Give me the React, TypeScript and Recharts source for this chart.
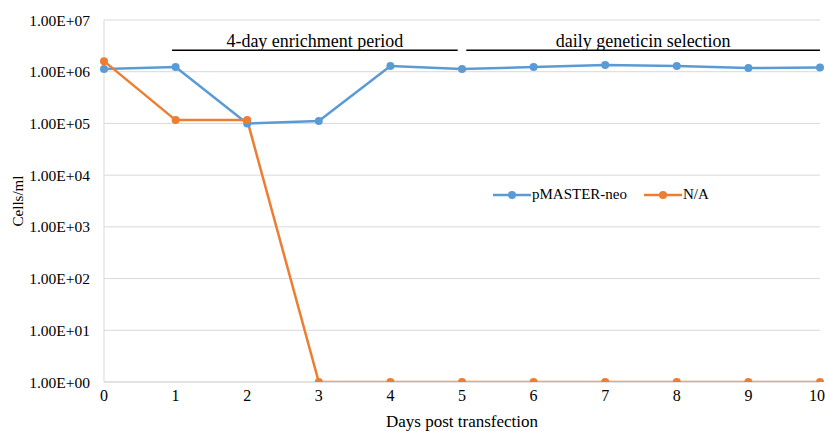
import React from 'react';
import { LineChart, Line, XAxis, YAxis, CartesianGrid, ReferenceLine } from 'recharts';

const days = [0, 1, 2, 3, 4, 5, 6, 7, 8, 9, 10];
const pmasterNeo = [1.13e6, 1.23e6, 1.0e5, 1.11e5, 1.29e6, 1.13e6, 1.23e6, 1.35e6, 1.29e6, 1.18e6, 1.2e6];
const noVector = [1.6e6, 1.16e5, 1.16e5, 1, 1, 1, 1, 1, 1, 1, 1];
const yTicks = [1, 10, 100, 1e3, 1e4, 1e5, 1e6, 1e7];
const periods = [
  { label: '4-day enrichment period', start: 0.95, end: 4.94 },
  { label: 'daily geneticin selection', start: 5.06, end: 10 },
];
const seriesNames = ['pMASTER-neo', 'N/A'];

const data = days.map((d, i) => ({ day: d, a: pmasterNeo[i], b: noVector[i] }));

const BLUE = '#5B9BD5';
const ORANGE = '#ED7D31';
const FONT = '"Liberation Serif", "Times New Roman", serif';

const sci = (v: number) => {
  const exp = Math.round(Math.log10(v));
  return `1.00E+${exp < 10 ? '0' + exp : exp}`;
};

const App: React.FC = () => {
  return (
    <div style={{ position: 'absolute', left: 0, top: 0, width: 825, height: 431, background: '#fff', fontFamily: FONT }}>
      <style>{`.chart text, .chart tspan { font-family: ${FONT} !important; }`}</style>
      <LineChart className="chart" width={825} height={431} data={data} margin={{ top: 20, right: 5, left: 0, bottom: 0 }}>
        <CartesianGrid vertical={false} stroke="#d9d9d9" />
        <XAxis
          dataKey="day"
          type="number"
          domain={[0, 10]}
          ticks={days}
          height={49}
          tickLine={false}
          tickSize={0}
          tickMargin={8}
          stroke="#d9d9d9"
          tick={{ fill: '#000', fontSize: 16 }}
          label={{ value: 'Days post transfection', position: 'insideBottom', offset: 4, fill: '#000', fontSize: 17 }}
        />
        <YAxis
          scale="log"
          domain={[1, 1e7]}
          ticks={yTicks}
          width={104}
          tickLine={false}
          tickSize={0}
          tickMargin={14}
          stroke="#d9d9d9"
          tickFormatter={sci}
          tick={{ fill: '#000', fontSize: 15.5 }}
          label={{ value: 'Cells/ml', angle: -90, position: 'center', dx: -34, fill: '#000', fontSize: 15 }}
          allowDataOverflow
        />
        {periods.map((p) => (
          <ReferenceLine
            key={p.label}
            segment={[{ x: p.start, y: 2.6e6 }, { x: p.end, y: 2.6e6 }]}
            stroke="#000"
            strokeWidth={1.3}
            ifOverflow="visible"
            label={{ value: p.label, position: 'top', offset: 3, fill: '#000', fontSize: 18 }}
          />
        ))}
        <Line dataKey="a" name={seriesNames[0]} stroke={BLUE} strokeWidth={2.5} dot={{ r: 4, fill: BLUE, stroke: BLUE, strokeWidth: 0 }} isAnimationActive={false} />
        <Line dataKey="b" name={seriesNames[1]} stroke={ORANGE} strokeWidth={2.5} dot={{ r: 4, fill: ORANGE, stroke: ORANGE, strokeWidth: 0 }} isAnimationActive={false} />
      </LineChart>
      <div style={{ position: 'absolute', left: 493, top: 186, display: 'flex', alignItems: 'center', fontSize: 15, color: '#000' }}>
        {[BLUE, ORANGE].map((c, i) => (
          <div key={i} style={{ display: 'flex', alignItems: 'center', marginRight: 17 }}>
            <svg width={38} height={12}>
              <line x1={0} y1={6} x2={38} y2={6} stroke={c} strokeWidth={2.5} />
              <circle cx={19} cy={6} r={4} fill={c} />
            </svg>
            <span style={{ marginLeft: 1 }}>{seriesNames[i]}</span>
          </div>
        ))}
      </div>
    </div>
  );
};

export default App;
